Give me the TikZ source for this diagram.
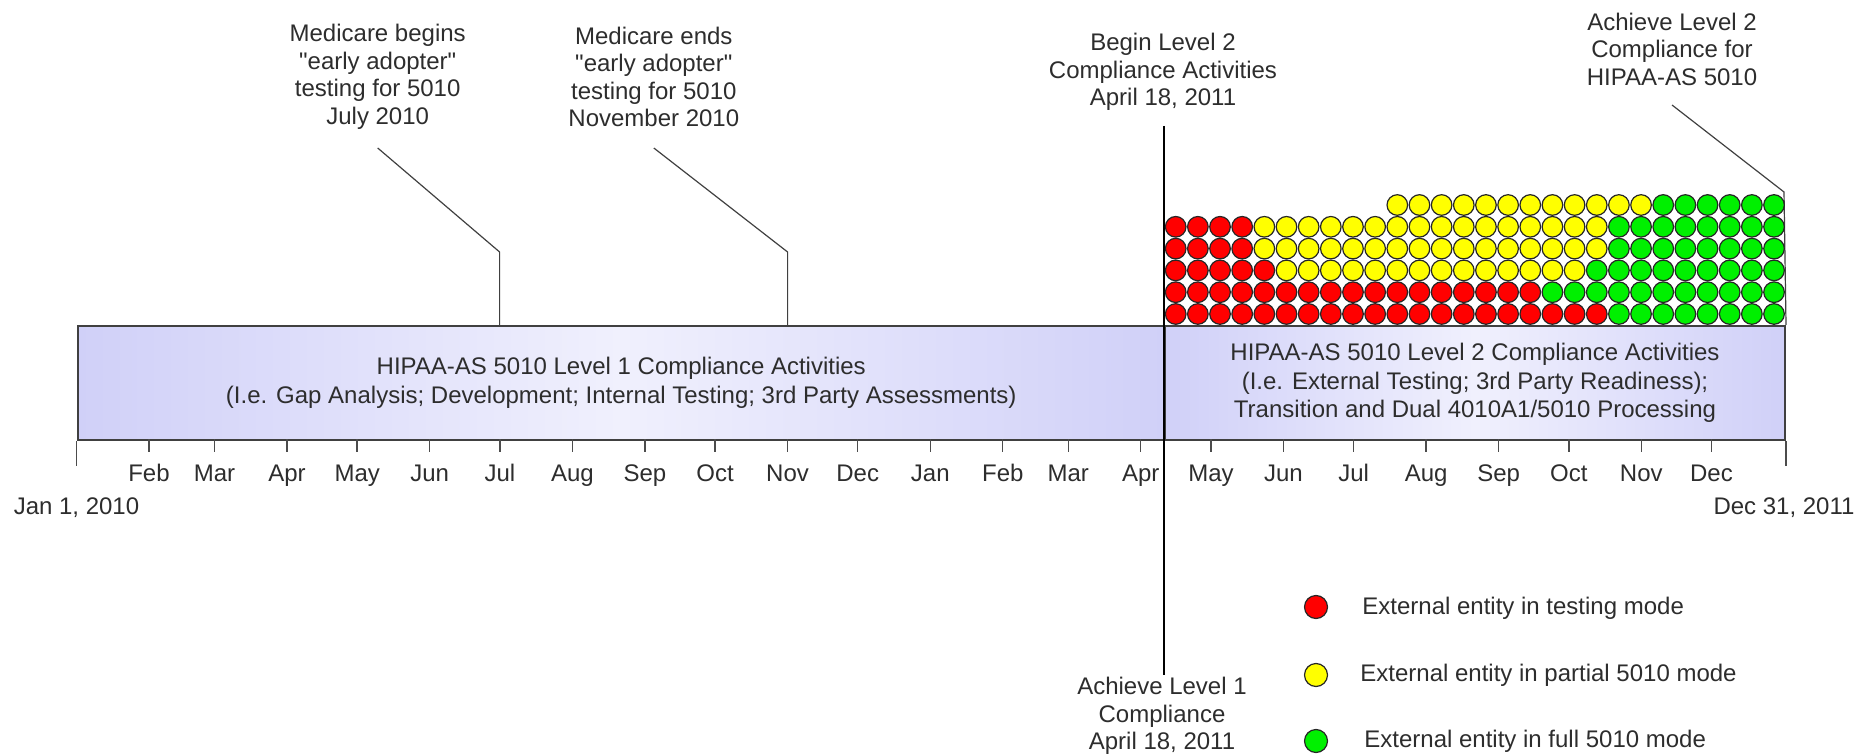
\documentclass[tikz,border=0pt]{standalone}
\usepackage{fontspec}
\setmainfont{Liberation Sans}
\definecolor{txtc}{RGB}{45,45,45}
\definecolor{baredge}{RGB}{208,208,248}
\definecolor{barmid}{RGB}{240,240,253}
\definecolor{cred}{RGB}{255,0,0}
\definecolor{cyel}{RGB}{255,255,0}
\definecolor{cgrn}{RGB}{0,240,0}
\newcommand\dotrun[4]{\foreach \k in {#1,...,#2} \draw[dot, fill=#4] ({1175.7+\k*22.16},#3) circle[radius=10.3];}
\newcommand\sq{\textquotedbl}
\begin{document}
\begin{tikzpicture}[x=0.5pt,y=-0.5pt,
  lbl/.style={font=\fontsize{12}{13.75}\selectfont, text=txtc, align=center, inner sep=0pt},
  barseg/.style={draw=black!75, line width=1pt, left color=baredge, right color=baredge, middle color=barmid, minimum height=57pt, inner sep=0pt, anchor=north west, font=\fontsize{12}{14.5}\selectfont, text=txtc, align=center},
  leader/.style={draw=black!75, line width=0.6pt},
  tickmark/.style={draw=black!70, line width=0.7pt},
  dot/.style={draw=black!85, line width=0.6pt},
]
\useasboundingbox (0,0) rectangle (1874,754);

% bar
\node[barseg, minimum width=543.75pt] (bar1) at (76.5,325) {HIPAA-AS 5010 Level 1 Compliance Activities\\(I.e. Gap Analysis; Development; Internal Testing; 3rd Party Assessments)};
\node[barseg, minimum width=310pt, font=\fontsize{12}{14.25}\selectfont] (bar2) at (1164,325) {HIPAA-AS 5010 Level 2 Compliance Activities\\(I.e. External Testing; 3rd Party Readiness);\\Transition and Dual 4010A1/5010 Processing};

% ticks and month labels
\foreach \d/\m in {31/Feb,59/Mar,90/Apr,120/May,151/Jun,181/Jul,212/Aug,243/Sep,273/Oct,304/Nov,334/Dec,365/Jan,396/Feb,424/Mar,455/Apr,485/May,516/Jun,546/Jul,577/Aug,608/Sep,638/Oct,669/Nov,699/Dec} {
  \draw[tickmark] ({76.5+\d*2.33904},439) -- ++(0,13);
  \node[lbl, anchor=base] (m\d) at ({76.5+\d*2.33904},481) {\m};
}
\draw[tickmark] (bar1.south west) -- ++(0,25);
\draw[tickmark] (bar2.south east) -- ++(0,25);
\node[lbl, anchor=base] (jan1) at (76.5,514) {Jan 1, 2010};
\node[lbl, anchor=base] (dec31) at (1784,514) {Dec 31, 2011};

% top labels
\node[lbl] (tMedB) at (377.7,77) {Medicare begins\\\sq early adopter\sq\\testing for 5010\\July 2010};
\node[lbl] (tMedE) at (653.8,77) {Medicare ends\\\sq early adopter\sq\\testing for 5010\\November 2010};
\node[lbl] (tBeg2) at (1163,72) {Begin Level 2\\Compliance Activities\\April 18, 2011};
\node[lbl] (tAch2) at (1672,49) {Achieve Level 2\\Compliance for\\HIPAA-AS 5010};
\node[lbl] (tAch1) at (1162,716) {Achieve Level 1\\Compliance\\April 18, 2011};

% leaders
\coordinate (mb0) at (377.7,148); \coordinate (mb1) at (499.6,252);
\coordinate (me0) at (653.8,148); \coordinate (me1) at (787.6,252);
\coordinate (a20) at (1672,105); \coordinate (a21) at (1784,192);
\coordinate (dv0) at (1164,126); \coordinate (dv1) at (1164,675);
\draw[leader] (mb0) -- (mb1) -- (mb1 |- bar1.north);
\draw[leader] (me0) -- (me1) -- (me1 |- bar1.north);
\draw[leader] (a20) -- (a21) -- (bar2.north east);
\draw[line width=1pt, black] (dv0) -- (dv1);

% entity grid
\dotrun{10}{21}{205}{cyel}
\dotrun{22}{27}{205}{cgrn}
\dotrun{0}{3}{226.8}{cred}
\dotrun{4}{19}{226.8}{cyel}
\dotrun{20}{27}{226.8}{cgrn}
\dotrun{0}{3}{248.6}{cred}
\dotrun{4}{19}{248.6}{cyel}
\dotrun{20}{27}{248.6}{cgrn}
\dotrun{0}{4}{270.4}{cred}
\dotrun{5}{18}{270.4}{cyel}
\dotrun{19}{27}{270.4}{cgrn}
\dotrun{0}{16}{292.2}{cred}
\dotrun{17}{27}{292.2}{cgrn}
\dotrun{0}{19}{314}{cred}
\dotrun{20}{27}{314}{cgrn}

% legend
\draw[dot, fill=cred] (1316,607) circle[radius=11.5];
\draw[dot, fill=cyel] (1316,675) circle[radius=11.5];
\draw[dot, fill=cgrn] (1316,741) circle[radius=11.5];
\node[lbl, anchor=west] (lg1) at (1362,608) {External entity in testing mode};
\node[lbl, anchor=west] (lg2) at (1360,675) {External entity in partial 5010 mode};
\node[lbl, anchor=west] (lg3) at (1364,741) {External entity in full 5010 mode};
\end{tikzpicture}
\end{document}
